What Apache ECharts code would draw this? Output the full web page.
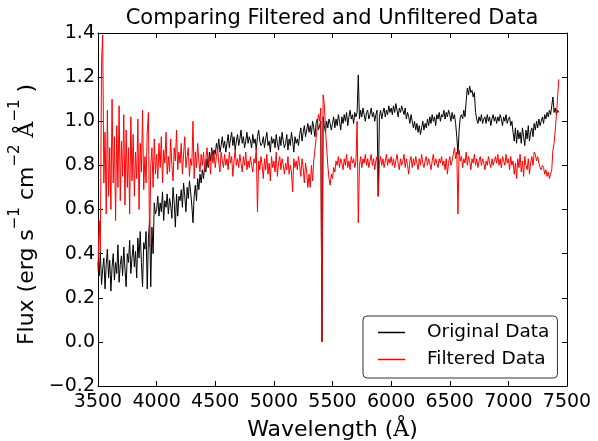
<!DOCTYPE html>
<html>
<head>
<meta charset="utf-8">
<script src="https://cdn.jsdelivr.net/npm/echarts@6/dist/echarts.min.js"></script>
<style>
  html, body { margin: 0; padding: 0; background: #fff; }
  #chart { width: 598px; height: 441px; }
</style>
</head>
<body>
<div id="chart"></div>
<script>
// Spectrum sampled on a regular wavelength grid (Angstrom)
const waveStart = 3500;
const waveStep = 10;

// Raw spectrum, flux in erg s^-1 cm^-2 A^-1
const originalFlux = [
  0.36,0.30,0.41,0.26,0.33,0.38,0.24,0.35,0.42,0.29,
  0.37,0.23,0.34,0.40,0.28,0.36,0.31,0.44,0.27,0.35,
  0.39,0.30,0.43,0.33,0.25,0.40,0.36,0.46,0.31,0.38,
  0.44,0.34,0.41,0.29,0.47,0.38,0.50,0.36,0.25,0.45,
  0.42,0.50,0.24,0.47,0.55,0.25,0.52,0.40,0.63,0.58,
  0.60,0.66,0.57,0.63,0.59,0.68,0.55,0.64,0.61,0.67,
  0.58,0.65,0.62,0.56,0.70,0.63,0.52,0.67,0.57,0.66,
  0.64,0.69,0.61,0.72,0.66,0.59,0.70,0.65,0.73,0.68,
  0.62,0.54,0.66,0.71,0.64,0.74,0.69,0.76,0.72,0.78,
  0.74,0.80,0.77,0.83,0.79,0.86,0.82,0.88,0.84,0.87,
  0.85,0.90,0.87,0.92,0.86,0.89,0.93,0.88,0.91,0.86,
  0.90,0.94,0.88,0.92,0.95,0.89,0.93,0.87,0.91,0.94,
  0.89,0.92,0.96,0.90,0.93,0.88,0.91,0.95,0.90,0.93,
  0.91,0.88,0.94,0.90,0.92,0.87,0.93,0.96,0.91,0.89,
  0.90,0.93,0.88,0.92,0.95,0.89,0.91,0.86,0.93,0.90,
  0.92,0.88,0.94,0.90,0.87,0.93,0.89,0.95,0.91,0.88,
  0.90,0.94,0.87,0.92,0.89,0.95,0.91,0.86,0.93,0.90,
  0.92,0.89,0.94,0.97,0.91,0.95,0.98,0.93,0.96,0.99,
  0.95,0.98,0.94,1.00,0.97,0.93,0.99,1.01,0.96,0.98,
  1.00,0.00,1.02,0.98,0.95,1.00,0.97,1.01,0.99,0.96,
  0.99,1.02,0.97,1.01,0.98,1.03,1.00,0.96,1.02,0.99,
  1.03,1.00,1.04,0.98,1.02,1.05,1.01,1.03,0.99,1.04,
  1.02,1.04,1.21,1.01,1.05,1.02,1.06,1.03,1.00,1.04,
  1.05,1.01,1.03,1.06,1.02,1.04,1.00,1.03,1.05,0.66,
  1.02,1.05,1.01,1.04,1.06,1.02,1.05,1.03,1.07,1.04,
  1.06,1.03,1.07,1.04,1.08,1.05,1.02,1.06,1.04,1.07,
  1.05,1.03,1.06,1.01,1.04,1.02,0.99,1.03,1.00,0.97,
  1.00,0.96,0.99,0.95,0.98,0.94,0.97,1.00,0.96,0.99,
  0.97,1.01,0.98,1.02,0.99,1.03,1.00,1.02,0.98,1.03,
  1.01,1.04,1.00,1.03,1.02,1.05,1.01,1.04,1.02,1.05,
  1.03,1.00,1.04,1.01,1.03,0.99,0.93,0.85,0.96,1.02,
  1.03,1.01,1.05,1.02,1.09,1.15,1.12,1.16,1.13,1.14,
  1.11,1.13,1.04,1.01,0.99,1.02,1.00,1.03,0.99,1.01,
  1.02,0.99,1.03,1.00,1.02,0.98,1.01,1.03,1.00,1.02,
  0.99,1.02,1.00,1.03,1.01,0.98,1.02,1.00,1.03,0.99,
  1.01,1.02,0.98,1.00,0.95,0.91,0.97,0.90,0.96,0.92,
  0.95,0.90,0.97,0.93,0.89,0.96,0.92,0.98,0.91,0.95,
  0.97,0.93,0.99,0.96,1.00,0.97,1.01,0.98,1.00,1.02,
  0.99,1.03,1.01,1.04,1.02,1.05,1.03,1.07,1.11,1.04,
  1.06,1.03,1.05,1.04
];

// Smoothed spectrum on the same grid
const filteredFlux = [
  0.32,0.55,0.41,1.27,1.39,0.72,0.95,0.58,1.05,0.66,
  0.88,0.60,1.10,0.72,0.93,0.55,0.98,0.70,1.07,0.64,
  0.91,0.75,1.03,0.62,0.96,0.70,0.88,0.58,1.02,0.73,
  0.94,0.66,0.86,0.74,1.01,0.60,0.90,0.77,1.05,0.69,
  0.84,0.72,0.95,1.04,0.43,0.80,0.88,0.70,0.92,0.76,
  0.85,0.74,0.90,0.79,0.93,0.72,0.87,0.81,0.95,0.76,
  0.84,0.77,0.92,0.80,0.73,0.88,0.82,0.96,0.78,0.86,
  0.81,0.90,0.76,0.85,0.93,0.79,0.84,0.88,0.75,0.83,
  0.80,1.00,0.74,0.86,0.79,0.90,0.82,0.77,0.85,0.80,
  0.86,0.78,0.83,0.88,0.80,0.84,0.76,0.87,0.81,0.85,
  0.79,0.84,0.88,0.81,0.77,0.86,0.82,0.79,0.85,0.80,
  0.83,0.78,0.86,0.81,0.84,0.75,0.82,0.87,0.80,0.83,
  0.79,0.85,0.81,0.77,0.84,0.80,0.86,0.78,0.82,0.79,
  0.84,0.80,0.77,0.83,0.81,0.88,0.59,0.82,0.78,0.84,
  0.80,0.74,0.83,0.78,0.85,0.76,0.81,0.73,0.84,0.79,
  0.82,0.77,0.86,0.75,0.81,0.84,0.78,0.83,0.80,0.76,
  0.81,0.78,0.84,0.76,0.80,0.77,0.68,0.83,0.79,0.82,
  0.78,0.84,0.80,0.75,0.83,0.79,0.72,0.81,0.77,0.70,
  0.76,0.70,0.80,0.73,0.82,0.87,0.92,0.98,1.03,1.00,
  1.06,0.00,1.12,1.08,0.97,0.88,0.80,0.74,0.71,0.76,
  0.74,0.79,0.77,0.82,0.80,0.84,0.79,0.83,0.81,0.78,
  0.83,0.80,0.85,0.79,0.82,0.78,0.84,0.81,0.83,0.79,
  0.82,1.00,0.54,0.80,0.84,0.79,0.83,0.81,0.85,0.80,
  0.83,0.79,0.82,0.85,0.80,0.83,0.78,0.82,0.84,0.66,
  0.81,0.84,0.80,0.83,0.79,0.82,0.85,0.80,0.83,0.81,
  0.84,0.80,0.83,0.79,0.82,0.85,0.81,0.78,0.83,0.80,
  0.82,0.85,0.79,0.83,0.80,0.76,0.82,0.84,0.79,0.83,
  0.80,0.84,0.81,0.78,0.83,0.80,0.85,0.81,0.79,0.82,
  0.84,0.80,0.83,0.81,0.78,0.82,0.85,0.80,0.83,0.81,
  0.79,0.83,0.81,0.84,0.80,0.82,0.78,0.83,0.76,0.81,
  0.84,0.80,0.82,0.85,0.88,0.83,0.86,0.58,0.87,0.82,
  0.84,0.79,0.83,0.81,0.86,0.80,0.84,0.82,0.78,0.83,
  0.81,0.85,0.80,0.83,0.79,0.82,0.84,0.80,0.83,0.81,
  0.78,0.82,0.80,0.84,0.81,0.79,0.83,0.80,0.82,0.84,
  0.81,0.85,0.80,0.83,0.79,0.84,0.82,0.80,0.85,0.81,
  0.83,0.78,0.84,0.80,0.82,0.76,0.81,0.74,0.83,0.79,
  0.85,0.77,0.82,0.75,0.84,0.80,0.78,0.83,0.76,0.81,
  0.84,0.80,0.86,0.85,0.82,0.84,0.81,0.79,0.78,0.80,
  0.79,0.76,0.78,0.75,0.77,0.74,0.76,0.78,0.87,0.90,
  0.96,1.03,1.11,1.19
];

// Axis ranges and tick spacing
const xRange = [3500, 7500];
const xTickStep = 500;
const yRange = [-0.2, 1.4];
const yTickStep = 0.2;

const seriesNames = ['Original Data', 'Filtered Data'];
const chartTitle = 'Comparing Filtered and Unfiltered Data';

const FONT = 'DejaVu Sans';

function toPairs(values) {
  return values.map((v, i) => [waveStart + i * waveStep, v]);
}

function yLabel(v) {
  const r = Math.round(v * 10) / 10;
  return (r < 0 ? '\u2212' : '') + Math.abs(r).toFixed(1);
}

const tickStyle = { show: true, inside: true, length: 5, lineStyle: { color: '#000', width: 1 } };
const lineStyleAxis = { show: true, onZero: false, lineStyle: { color: '#000', width: 1 } };

const chart = echarts.init(document.getElementById('chart'), null, { renderer: 'canvas' });

chart.setOption({
  animation: false,
  backgroundColor: '#fff',
  title: {
    text: chartTitle,
    left: 332,
    textAlign: 'center',
    top: 8,
    padding: 0,
    textStyle: { fontFamily: FONT, fontSize: 21, fontWeight: 'normal', color: '#000' }
  },
  grid: {
    left: 98, right: 31, top: 33, bottom: 55,
    containLabel: false,
    outerBoundsMode: 'none'
  },
  legend: {
    orient: 'vertical',
    left: 363,
    top: 316,
    padding: [7, 8, 9, 15],
    itemGap: 8,
    itemWidth: 27,
    itemHeight: 1.5,
    icon: 'rect',
    backgroundColor: '#fff',
    borderColor: '#333',
    borderWidth: 1,
    borderRadius: 4,
    textStyle: { fontFamily: FONT, fontSize: 18.5, color: '#000', padding: [0, 0, 0, 17] },
    data: seriesNames
  },
  xAxis: [
    {
      type: 'value',
      min: xRange[0], max: xRange[1], interval: xTickStep,
      position: 'bottom',
      axisLine: lineStyleAxis,
      axisTick: tickStyle,
      splitLine: { show: false },
      axisLabel: {
        fontFamily: FONT, fontSize: 19, color: '#000', margin: 7,
        showMinLabel: true, showMaxLabel: true,
        formatter: v => String(Math.round(v))
      },
      name: '{t|Wavelength (}{a|\u00C5}{t|)}',
      nameLocation: 'middle',
      nameGap: 33,
      nameTextStyle: {
        fontFamily: FONT, fontSize: 22, color: '#000',
        rich: {
          t: { fontFamily: FONT, fontSize: 22, color: '#000' },
          a: { fontFamily: 'DejaVu Serif', fontSize: 22, color: '#000' }
        }
      }
    },
    {
      type: 'value',
      min: xRange[0], max: xRange[1], interval: xTickStep,
      position: 'top',
      axisLine: lineStyleAxis,
      axisTick: tickStyle,
      axisLabel: { show: false },
      splitLine: { show: false }
    }
  ],
  yAxis: [
    {
      type: 'value',
      min: yRange[0], max: yRange[1], interval: yTickStep,
      position: 'left',
      axisLine: lineStyleAxis,
      axisTick: tickStyle,
      splitLine: { show: false },
      axisLabel: {
        fontFamily: FONT, fontSize: 19, color: '#000', margin: 3,
        showMinLabel: true, showMaxLabel: true,
        formatter: yLabel
      },
      name: '{b|Flux (erg s}{s|\u22121}{b| cm}{s|\u22122}{b| }{a|\u00C5}{s|\u22121}{b| )}',
      nameLocation: 'middle',
      nameRotate: 90,
      nameGap: 51,
      nameTextStyle: {
        fontFamily: FONT, fontSize: 22, color: '#000',
        padding: [0, 10, 0, 0],
        rich: {
          b: { fontFamily: FONT, fontSize: 22, color: '#000', lineHeight: 30, verticalAlign: 'bottom' },
          s: { fontFamily: FONT, fontSize: 15, color: '#000', lineHeight: 15, verticalAlign: 'top' },
          a: { fontFamily: 'DejaVu Serif', fontSize: 22, color: '#000', lineHeight: 30, verticalAlign: 'bottom' }
        }
      }
    },
    {
      type: 'value',
      min: yRange[0], max: yRange[1], interval: yTickStep,
      position: 'right',
      axisLine: lineStyleAxis,
      axisTick: tickStyle,
      axisLabel: { show: false },
      splitLine: { show: false }
    }
  ],
  series: [
    {
      name: seriesNames[0],
      type: 'line',
      xAxisIndex: 0, yAxisIndex: 0,
      data: toPairs(originalFlux),
      symbol: 'none',
      lineStyle: { color: '#000000', width: 1 },
      itemStyle: { color: '#000000' },
      z: 2
    },
    {
      name: seriesNames[1],
      type: 'line',
      xAxisIndex: 0, yAxisIndex: 0,
      data: toPairs(filteredFlux),
      symbol: 'none',
      lineStyle: { color: '#ff0000', width: 1 },
      itemStyle: { color: '#ff0000' },
      z: 3
    }
  ]
});
</script>
</body>
</html>
